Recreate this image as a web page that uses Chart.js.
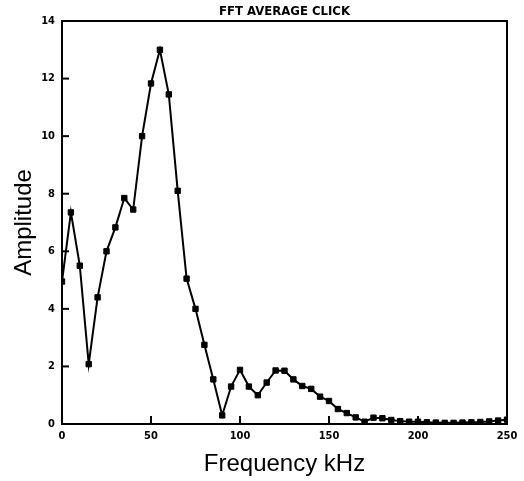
<!DOCTYPE html>
<html>
<head>
<meta charset="utf-8">
<script src="https://cdn.jsdelivr.net/npm/chart.js@4.4.1/dist/chart.umd.min.js"></script>
<style>
    body { margin: 0; background: #fff; }
    canvas { display: block; }
</style>
</head>
<body>
<canvas id="myChart" width="524" height="481"></canvas>
<script>
let freqKHz = [0, 5, 10, 15, 20, 25, 30, 35, 40, 45,
    50, 55, 60, 65, 70, 75, 80, 85, 90, 95,
    100, 105, 110, 115, 120, 125, 130, 135, 140, 145,
    150, 155, 160, 165, 170, 175, 180, 185, 190, 195,
    200, 205, 210, 215, 220, 225, 230, 235, 240, 245, 250]
let amplitude = [4.95, 7.35, 5.5, 2.08, 4.4, 6.0, 6.83, 7.85, 7.45, 10.0,
    11.83, 13.0, 11.45, 8.1, 5.05, 4.0, 2.75, 1.55, 0.3, 1.3,
    1.88, 1.3, 1.0, 1.44, 1.86, 1.85, 1.55, 1.32, 1.22, 0.95,
    0.8, 0.52, 0.38, 0.23, 0.08, 0.22, 0.2, 0.14, 0.1, 0.08,
    0.08, 0.06, 0.05, 0.04, 0.04, 0.05, 0.06, 0.07, 0.09, 0.12, 0.15]
let xTicks = [0, 50, 100, 150, 200, 250]
let yTicks = [0, 2, 4, 6, 8, 10, 12, 14]

let tickFont = { family: "'DejaVu Sans Condensed', 'DejaVu Sans', sans-serif", size: 11, weight: 'bold' }

// box round the plot + inward tick marks like the old plotter output
let framePlugin = {
    id: 'frame',
    afterDatasetsDraw(chart) {
        let ctx = chart.ctx
        let area = chart.chartArea
        let xs = chart.scales.x
        let ys = chart.scales.y
        ctx.save()
        ctx.strokeStyle = '#000'
        ctx.lineWidth = 2
        ctx.strokeRect(area.left, area.top, area.right - area.left, area.bottom - area.top)
        ctx.lineWidth = 2
        for (let i = 0; i < yTicks.length; i++) {
            let y = ys.getPixelForValue(yTicks[i])
            ctx.beginPath()
            ctx.moveTo(area.left, y)
            ctx.lineTo(area.left + 7, y)
            ctx.stroke()
        }
        for (let i = 0; i < xTicks.length; i++) {
            let x = xs.getPixelForValue(xTicks[i])
            ctx.beginPath()
            ctx.moveTo(x, area.bottom)
            ctx.lineTo(x, area.bottom - 8)
            ctx.stroke()
        }
        ctx.restore()
    }
}

let ctx = document.getElementById('myChart').getContext('2d')
let myChart = new Chart(ctx, {
    type: 'line',
    data: {
        datasets: [{
            data: freqKHz.map((f, i) => ({ x: f, y: amplitude[i] })),
            borderColor: '#000',
            backgroundColor: '#000',
            borderWidth: 2,
            pointStyle: 'rect',
            pointRadius: 3.8,
            pointBorderWidth: 1,
            pointBorderColor: '#000',
            tension: 0
        }]
    },
    options: {
        responsive: false,
        animation: false,
        layout: { padding: { left: 0, right: 17, top: 0, bottom: 0 } },
        plugins: {
            legend: { display: false },
            tooltip: { enabled: false },
            title: {
                display: true,
                text: 'FFT AVERAGE CLICK',
                fullSize: false,
                color: '#000',
                font: { family: "'Liberation Sans Narrow', 'DejaVu Sans Condensed', sans-serif", size: 13, weight: 'bold', lineHeight: 1 },
                padding: { top: 5, bottom: 3 }
            }
        },
        scales: {
            x: {
                type: 'linear',
                min: 0,
                max: 250,
                afterBuildTicks: s => { s.ticks = xTicks.map(v => ({ value: v })) },
                afterFit: s => { s.height = 57 },
                grid: { display: false, drawTicks: false },
                border: { display: false },
                ticks: { color: '#000', font: tickFont, padding: 6, maxRotation: 0 },
                title: {
                    display: true,
                    text: 'Frequency kHz',
                    color: '#000',
                    font: { family: "'Liberation Sans', Arial, sans-serif", size: 24 },
                    padding: { top: 0, bottom: 2 }
                }
            },
            y: {
                min: 0,
                max: 14,
                afterBuildTicks: s => { s.ticks = yTicks.map(v => ({ value: v })) },
                afterFit: s => { s.width = 62 },
                grid: { display: false, drawTicks: false },
                border: { display: false },
                ticks: { color: '#000', font: tickFont, padding: 7 },
                title: {
                    display: true,
                    text: 'Amplitude',
                    color: '#000',
                    font: { family: "'Liberation Sans', Arial, sans-serif", size: 24 },
                    padding: { top: 10, bottom: 0 }
                }
            }
        }
    },
    plugins: [framePlugin]
})
</script>
</body>
</html>
